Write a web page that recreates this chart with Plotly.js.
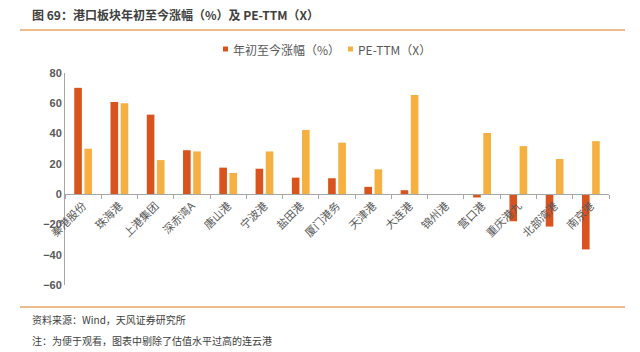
<!DOCTYPE html>
<html>
<head>
<meta charset="utf-8">
<script src="https://cdn.plot.ly/plotly-3.0.1.min.js"></script>
<style>html,body{margin:0;padding:0;background:#fff;}#chart{width:640px;height:352px;}</style>
</head>
<body>
<div id="chart"></div>
<script>
const categories = ['秦港股份','珠海港','上港集团','深赤湾A','唐山港','宁波港','盐田港','厦门港务','天津港','大连港','锦州港','营口港','重庆港九','北部湾港','南京港'];
const ytdChange = [70.2, 60.8, 52.5, 29.0, 17.5, 16.8, 10.9, 10.5, 4.8, 2.6, null, -2.2, -17.9, -21.4, -36.5];
const peTTM = [30.0, 60.1, 22.5, 28.2, 14.0, 28.2, 42.4, 34.0, 16.4, 65.4, null, 40.4, 31.7, 23.2, 35.0];
const seriesNames = ['年初至今涨幅（%）', 'PE-TTM（X）'];
const seriesColors = ['#D9531E', '#F5B041'];
const yTicks = [-60, -40, -20, 0, 20, 40, 60, 80];

const cjk = '"Noto Sans CJK SC", "Noto Sans", sans-serif';
const L = 65, R = 609, T = 73, B = 285;
const W = R - L, H = B - T;
const px = x => (x - L) / W;
const py = y => (B - y) / H;

const traces = [
  {type: 'bar', x: categories, y: ytdChange, name: seriesNames[0], marker: {color: seriesColors[0]}, showlegend: false},
  {type: 'bar', x: categories, y: peTTM, name: seriesNames[1], marker: {color: seriesColors[1]}, showlegend: false}
];

// custom legend (small squares + text)
const legendX = [223, 348];
const legendY = 49;
const legendShapes = seriesNames.map((n, i) => ({
  type: 'rect', xref: 'paper', yref: 'paper',
  x0: px(legendX[i]), x1: px(legendX[i] + 5), y0: py(legendY + 2.5), y1: py(legendY - 2.5),
  fillcolor: seriesColors[i], line: {width: 0}
}));
const legendTexts = seriesNames.map((n, i) => ({
  xref: 'paper', yref: 'paper', x: px(legendX[i] + 8), y: py(legendY), xanchor: 'left', yanchor: 'middle',
  showarrow: false, text: n, font: {family: cjk, size: 12, color: '#595959'}
}));

const layout = {
  width: 640, height: 352,
  margin: {l: L, r: 640 - R, t: T, b: 352 - B, pad: 0},
  paper_bgcolor: '#fff', plot_bgcolor: '#fff',
  font: {family: cjk, color: '#595959', size: 11},
  barmode: 'group', bargap: 0.44, bargroupgap: 0.25,
  showlegend: false,
  xaxis: {type: 'category', anchor: 'free', position: 60 / 140, showline: true, linecolor: '#A6A6A6', linewidth: 1,
          ticks: 'outside', tickson: 'boundaries', ticklen: 4, tickcolor: '#A6A6A6', tickangle: -45,
          tickfont: {family: cjk, size: 11, color: '#595959'}, showgrid: false, zeroline: false},
  yaxis: {range: [-60, 80], tickvals: yTicks, showline: true, linecolor: '#A6A6A6', linewidth: 1,
          ticks: '', showgrid: false, zeroline: false,
          tickfont: {family: 'Liberation Sans, Arial, sans-serif', size: 11, color: '#595959', weight: 'bold'}},
  shapes: [
    {type: 'line', xref: 'paper', yref: 'paper', x0: px(20), x1: px(625), y0: py(30), y1: py(30), line: {color: '#E9A463', width: 1.5}},
    {type: 'line', xref: 'paper', yref: 'paper', x0: px(20), x1: px(625), y0: py(307), y1: py(307), line: {color: '#E9A463', width: 1.5}}
  ].concat(legendShapes),
  annotations: [
    {xref: 'paper', yref: 'paper', x: px(30), y: py(15), xanchor: 'left', yanchor: 'middle', showarrow: false,
     text: '<b>图 69：港口板块年初至今涨幅（%）及 PE-TTM（X）</b>', font: {family: cjk, size: 12, color: '#404040'}},
    {xref: 'paper', yref: 'paper', x: px(30), y: py(319), xanchor: 'left', yanchor: 'middle', showarrow: false,
     text: '资料来源：Wind，天风证券研究所', font: {family: cjk, size: 10, color: '#404040'}},
    {xref: 'paper', yref: 'paper', x: px(30), y: py(340), xanchor: 'left', yanchor: 'middle', showarrow: false,
     text: '注：为便于观看，图表中剔除了估值水平过高的连云港', font: {family: cjk, size: 10, color: '#404040'}}
  ].concat(legendTexts)
};

Plotly.newPlot('chart', traces, layout, {displayModeBar: false, staticPlot: true});
</script>
</body>
</html>
